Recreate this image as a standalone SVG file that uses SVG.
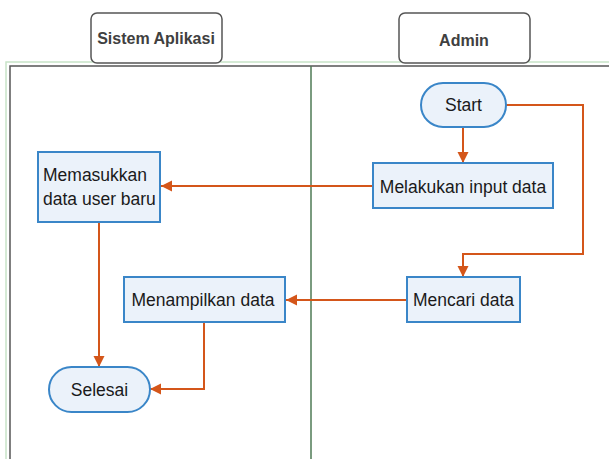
<svg xmlns="http://www.w3.org/2000/svg" width="609" height="459" viewBox="0 0 609 459">
<style>
.hdr{fill:#ffffff;stroke:#555555;stroke-width:1.5}
.ht{font-family:"Liberation Sans",Arial,sans-serif;font-weight:bold;font-size:16px;fill:#404040;text-anchor:middle}
.box{fill:#ebf2fa;stroke:#3a86c8;stroke-width:2}
.t{font-family:"Liberation Sans",Arial,sans-serif;font-size:17.5px;fill:#1a1a1a}
.c{text-anchor:middle}
.conn{fill:none;stroke:#d4561a;stroke-width:2}
</style>
<defs>
<marker id="arr" viewBox="0 0 10 10" markerUnits="userSpaceOnUse" markerWidth="11" markerHeight="12" refX="10" refY="5" orient="auto">
<path d="M0,0 L10,5 L0,10 z" fill="#d4561a"/>
</marker>
</defs>
<rect width="609" height="459" fill="#ffffff"/>
<g id="frame">
<path d="M6,459 V62 H609" fill="none" stroke="#c8e4c8" stroke-width="1.5"/>
<path d="M10,459 V66 H609" fill="none" stroke="#555555" stroke-width="1.5"/>
<line x1="311" y1="66" x2="311" y2="459" stroke="#4e7a55" stroke-width="1.5"/>
</g>
<g id="lane-sistem">
<rect class="hdr" x="91" y="13" width="131" height="50" rx="6"/>
<text class="ht" x="156" y="44">Sistem Aplikasi</text>
</g>
<g id="lane-admin">
<rect class="hdr" x="399" y="13" width="131" height="50" rx="6"/>
<text class="ht" x="464" y="46">Admin</text>
</g>
<g id="connectors">
<line class="conn" x1="463" y1="127" x2="463" y2="163" marker-end="url(#arr)"/>
<path class="conn" d="M506,105 H583 V254 H463 V277" marker-end="url(#arr)"/>
<line class="conn" x1="373" y1="186" x2="161" y2="186" marker-end="url(#arr)"/>
<line class="conn" x1="407" y1="300" x2="286" y2="300" marker-end="url(#arr)"/>
<line class="conn" x1="99" y1="222" x2="99" y2="367" marker-end="url(#arr)"/>
<path class="conn" d="M204,322 V389 H150" marker-end="url(#arr)"/>
</g>
<g id="start">
<rect class="box" x="421" y="83" width="85" height="44" rx="22"/>
<text class="t c" x="463.5" y="111">Start</text>
</g>
<g id="melakukan-input-data">
<rect class="box" x="373" y="163" width="180" height="45"/>
<text class="t c" x="463" y="193">Melakukan input data</text>
</g>
<g id="memasukkan-data-user-baru">
<rect class="box" x="38" y="152" width="122" height="70"/>
<text class="t" x="43" y="181">Memasukkan</text>
<text class="t" x="43" y="205">data user baru</text>
</g>
<g id="mencari-data">
<rect class="box" x="407" y="277" width="113" height="45"/>
<text class="t c" x="463.5" y="306">Mencari data</text>
</g>
<g id="menampilkan-data">
<rect class="box" x="124" y="277" width="161" height="45"/>
<text class="t c" x="203" y="306">Menampilkan data</text>
</g>
<g id="selesai">
<rect class="box" x="49" y="367" width="101" height="45" rx="22.5"/>
<text class="t c" x="99.5" y="396">Selesai</text>
</g>
</svg>
